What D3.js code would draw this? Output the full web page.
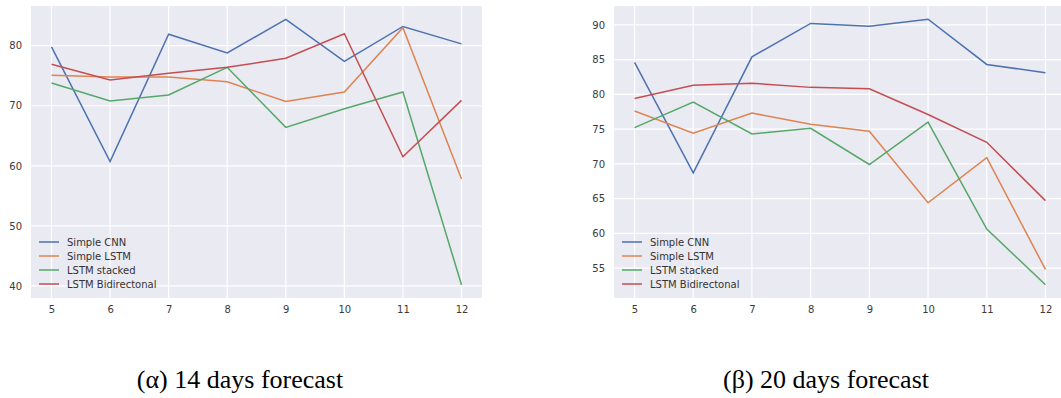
<!DOCTYPE html>
<html>
<head>
<meta charset="utf-8">
<script src="https://cdn.jsdelivr.net/npm/d3@7"></script>
<style>
  body { margin: 0; background: #fff; }
  svg { display: block; }
</style>
</head>
<body>
<svg id="chart" width="1061" height="398"></svg>
<script>
// data
const steps = [5, 6, 7, 8, 9, 10, 11, 12];
const seriesNames = ["Simple CNN", "Simple LSTM", "LSTM stacked", "LSTM Bidirectonal"];
const seriesColors = ["#4c72b0", "#dd8452", "#55a868", "#c44e52"];

// 14 days forecast
const cnn14 = [79.8, 60.7, 81.9, 78.8, 84.4, 77.4, 83.2, 80.3];
const lstm14 = [75.1, 74.8, 74.8, 74.0, 70.7, 72.3, 83.0, 57.8];
const stacked14 = [73.8, 70.8, 71.8, 76.4, 66.4, 69.5, 72.3, 40.2];
const bidir14 = [76.9, 74.3, 75.4, 76.4, 77.9, 82.0, 61.5, 70.9];
const yTicks14 = [40, 50, 60, 70, 80];

// 20 days forecast
const cnn20 = [84.6, 68.7, 85.4, 90.2, 89.8, 90.8, 84.3, 83.1];
const lstm20 = [77.6, 74.4, 77.3, 75.7, 74.7, 64.4, 70.9, 54.8];
const stacked20 = [75.2, 78.9, 74.3, 75.1, 69.9, 76.0, 60.6, 52.6];
const bidir20 = [79.4, 81.3, 81.6, 81.0, 80.8, 77.1, 73.1, 64.7];
const yTicks20 = [55, 60, 65, 70, 75, 80, 85, 90];

const captions = ["(\u03b1) 14 days forecast", "(\u03b2) 20 days forecast"];

const svg = d3.select("#chart");

function drawPanel(opts) {
  const { left, right, top, bottom, series, yTicks, caption, captionX } = opts;
  const all = series.flat();
  const lo = d3.min(all), hi = d3.max(all);
  const pad = (hi - lo) * 0.05;

  const x = d3.scaleLinear().domain([4.65, 12.35]).range([left, right]);
  const y = d3.scaleLinear().domain([lo - pad, hi + pad]).range([bottom, top]);

  const clipId = "clip" + Math.round(left);
  svg.append("clipPath").attr("id", clipId)
    .append("rect").attr("x", left).attr("y", top)
    .attr("width", right - left).attr("height", bottom - top);

  const g = svg.append("g");

  g.append("rect")
    .attr("x", left).attr("y", top)
    .attr("width", right - left).attr("height", bottom - top)
    .attr("fill", "#eaeaf2");

  // grid
  g.append("g").selectAll("line").data(steps).join("line")
    .attr("x1", d => x(d)).attr("x2", d => x(d))
    .attr("y1", top).attr("y2", bottom)
    .attr("stroke", "#fff").attr("stroke-width", 1.2);
  g.append("g").selectAll("line").data(yTicks).join("line")
    .attr("x1", left).attr("x2", right)
    .attr("y1", d => y(d)).attr("y2", d => y(d))
    .attr("stroke", "#fff").attr("stroke-width", 1.2);

  // axes (labels only)
  const xAxis = g.append("g")
    .attr("transform", `translate(0,${bottom})`)
    .call(d3.axisBottom(x).tickValues(steps).tickSize(0).tickPadding(8));
  const yAxis = g.append("g")
    .attr("transform", `translate(${left},0)`)
    .call(d3.axisLeft(y).tickValues(yTicks).tickSize(0).tickPadding(9));
  [xAxis, yAxis].forEach(a => {
    a.select(".domain").remove();
    a.selectAll("text")
      .style("font-family", "'DejaVu Sans', sans-serif")
      .style("font-size", "10px")
      .attr("fill", "#3a3a3a");
  });

  // lines
  const line = d3.line().x((d, i) => x(steps[i])).y(d => y(d));
  g.append("g").attr("clip-path", `url(#${clipId})`)
    .selectAll("path").data(series).join("path")
    .attr("d", line)
    .attr("fill", "none")
    .attr("stroke", (d, i) => seriesColors[i])
    .attr("stroke-width", 1.5);

  // legend
  const leg = g.append("g").attr("transform", `translate(${left + 8},${bottom - 56})`);
  seriesNames.forEach((name, i) => {
    const row = leg.append("g").attr("transform", `translate(0,${i * 14})`);
    row.append("line")
      .attr("x1", 0).attr("x2", 20).attr("y1", 0).attr("y2", 0)
      .attr("stroke", seriesColors[i]).attr("stroke-width", 1.5);
    row.append("text")
      .attr("x", 28).attr("y", 0).attr("dy", "0.35em")
      .style("font-family", "'DejaVu Sans', sans-serif")
      .style("font-size", "10px")
      .attr("fill", "#333")
      .text(name);
  });

  svg.append("text")
    .attr("x", captionX).attr("y", 388)
    .attr("text-anchor", "middle")
    .style("font-family", "'Liberation Serif', 'Times New Roman', serif")
    .style("font-size", "26px")
    .attr("fill", "#000")
    .text(caption);
}

drawPanel({
  left: 31, right: 482, top: 6, bottom: 298,
  series: [cnn14, lstm14, stacked14, bidir14],
  yTicks: yTicks14, caption: captions[0], captionX: 240
});

drawPanel({
  left: 614, right: 1066, top: 6, bottom: 298,
  series: [cnn20, lstm20, stacked20, bidir20],
  yTicks: yTicks20, caption: captions[1], captionX: 826
});
</script>
</body>
</html>
